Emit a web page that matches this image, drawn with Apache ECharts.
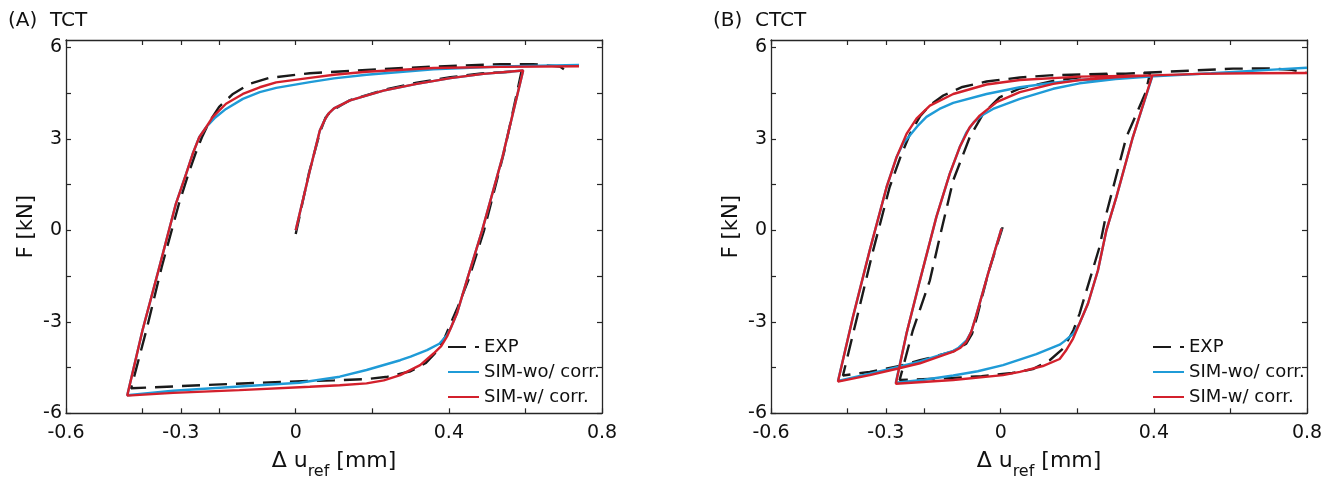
<!DOCTYPE html>
<html><head><meta charset="utf-8">
<script src="https://cdn.jsdelivr.net/npm/echarts@6/dist/echarts.min.js"></script>
<style>html,body{margin:0;padding:0;background:#fff}#c{width:1333px;height:481px}</style>
</head><body><div id="c"></div>
<script>
// ---- tick values ----
const xTicks = [-0.6, -0.4, -0.3, -0.2, 0, 0.2, 0.4, 0.6, 0.8];
const xLabels = [-0.6, -0.3, 0, 0.4, 0.8];
const yTicks = [-6, -4.5, -3, -1.5, 0, 1.5, 3, 4.5, 6];
const yLabels = [-6, -3, 0, 3, 6];
const seriesNames = ['EXP', 'SIM-wo/ corr.', 'SIM-w/ corr.'];
const panelTitles = ['(A)  TCT', '(B)  CTCT'];

// ---- (A) TCT : [Δu_ref mm, F kN] ----
const tctExp = [
  [0,-0.12],[0.035,1.9],[0.063,3.2],[0.078,3.7],[0.092,3.9],[0.142,4.27],[0.229,4.6],[0.316,4.84],[0.404,5.02],[0.49,5.15],[0.59,5.22],
  [0.545,2.6],[0.492,0],[0.452,-1.6],[0.424,-2.5],[0.405,-3.05],[0.39,-3.5],[0.37,-3.95],[0.34,-4.35],[0.3,-4.62],[0.24,-4.8],[0.185,-4.88],[0.1,-4.92],[0.037,-4.94],[-0.1,-5.0],[-0.25,-5.08],[-0.43,-5.18],
  [-0.39,-3.27],[-0.35,-1.2],[-0.305,0.87],[-0.28,1.86],[-0.262,2.51],[-0.245,3.05],[-0.226,3.55],[-0.2,4.05],[-0.164,4.47],[-0.121,4.8],[-0.068,5.0],[0.037,5.15],[0.185,5.26],[0.36,5.37],[0.535,5.45],[0.62,5.45],[0.69,5.37],[0.716,5.15]
];
const tctSimWo = [
  [0,0],[0.037,1.96],[0.063,3.27],[0.075,3.6],[0.085,3.82],[0.1,4.0],[0.142,4.26],[0.229,4.58],[0.316,4.8],[0.404,4.99],[0.49,5.13],[0.594,5.24],
  [0.54,2.4],[0.487,0],[0.447,-1.64],[0.421,-2.73],[0.405,-3.2],[0.395,-3.44],[0.375,-3.72],[0.343,-3.93],[0.3,-4.14],[0.273,-4.26],[0.185,-4.58],[0.115,-4.8],[0.01,-5.0],[-0.147,-5.12],[-0.32,-5.26],[-0.44,-5.41],
  [-0.40,-3.27],[-0.356,-1.2],[-0.313,0.87],[-0.286,1.86],[-0.269,2.51],[-0.252,3.05],[-0.234,3.38],[-0.21,3.7],[-0.182,3.98],[-0.138,4.31],[-0.094,4.53],[-0.051,4.67],[0.037,4.86],[0.1,4.98],[0.185,5.1],[0.36,5.28],[0.535,5.37],[0.74,5.42]
];
const tctSimW = [
  [0,0],[0.037,1.96],[0.063,3.27],[0.075,3.6],[0.085,3.82],[0.1,4.0],[0.142,4.26],[0.229,4.58],[0.316,4.8],[0.404,4.99],[0.49,5.13],[0.594,5.24],
  [0.54,2.4],[0.487,0],[0.447,-1.64],[0.421,-2.73],[0.405,-3.2],[0.395,-3.49],[0.38,-3.8],[0.36,-4.04],[0.325,-4.42],[0.273,-4.75],[0.23,-4.92],[0.185,-5.02],[0.115,-5.08],[0.037,-5.13],[-0.147,-5.24],[-0.32,-5.33],[-0.44,-5.42],
  [-0.40,-3.27],[-0.356,-1.2],[-0.313,0.87],[-0.286,1.86],[-0.269,2.51],[-0.252,3.05],[-0.234,3.38],[-0.217,3.71],[-0.182,4.15],[-0.138,4.47],[-0.094,4.69],[-0.051,4.85],[0.037,5.0],[0.1,5.1],[0.185,5.2],[0.36,5.32],[0.535,5.36],[0.74,5.38]
];

// ---- (B) CTCT ----
const ctctExp = [
  [0.005,0.1],[-0.033,-1.42],[-0.062,-2.84],[-0.075,-3.4],[-0.09,-3.72],[-0.124,-3.97],[-0.17,-4.13],[-0.211,-4.26],[-0.264,-4.45],[-0.342,-4.64],[-0.412,-4.76],
  [-0.375,-2.84],[-0.333,-0.65],[-0.29,1.42],[-0.262,2.4],[-0.237,3.16],[-0.21,3.75],[-0.185,4.1],[-0.15,4.42],[-0.1,4.7],[-0.037,4.88],[0.05,5.01],[0.128,5.08],[0.258,5.13],[0.39,5.15],
  [0.378,4.5],[0.328,3.05],[0.276,0.55],[0.258,-0.55],[0.232,-1.64],[0.206,-2.73],[0.19,-3.27],[0.165,-3.85],[0.128,-4.26],[0.084,-4.55],[0.03,-4.68],[-0.05,-4.78],[-0.124,-4.84],[-0.264,-4.91],
  [-0.23,-3.3],[-0.185,-1.64],[-0.155,0],[-0.124,1.64],[-0.081,3.05],[-0.046,3.82],[-0.003,4.36],[0.05,4.65],[0.137,4.9],[0.206,5.02],[0.3,5.12],[0.433,5.2],[0.607,5.3],[0.7,5.31],[0.76,5.26],[0.798,5.17]
];
const ctctSimWo = [
  [0.002,0.06],[-0.033,-1.42],[-0.065,-2.84],[-0.077,-3.33],[-0.09,-3.62],[-0.11,-3.85],[-0.124,-3.95],[-0.211,-4.3],[-0.268,-4.48],[-0.342,-4.7],[-0.425,-4.94],
  [-0.386,-2.84],[-0.342,-0.65],[-0.298,1.42],[-0.272,2.4],[-0.255,2.85],[-0.238,3.1],[-0.215,3.45],[-0.194,3.72],[-0.16,3.98],[-0.124,4.18],[-0.037,4.47],[0.05,4.69],[0.137,4.84],[0.206,4.93],[0.3,5.0],[0.396,5.05],
  [0.345,3.05],[0.302,1.09],[0.276,0],[0.254,-1.31],[0.228,-2.4],[0.206,-3.05],[0.189,-3.4],[0.165,-3.65],[0.154,-3.75],[0.093,-4.06],[0.006,-4.42],[-0.06,-4.62],[-0.124,-4.76],[-0.2,-4.9],[-0.274,-5.0],
  [-0.246,-3.38],[-0.211,-1.64],[-0.168,0.44],[-0.133,1.86],[-0.107,2.73],[-0.09,3.2],[-0.07,3.55],[-0.045,3.8],[-0.02,3.98],[0.05,4.31],[0.137,4.64],[0.206,4.82],[0.3,4.96],[0.4,5.05],[0.55,5.15],[0.7,5.26],[0.8,5.33]
];
const ctctSimW = [
  [0.002,0.06],[-0.033,-1.42],[-0.065,-2.84],[-0.077,-3.33],[-0.09,-3.66],[-0.105,-3.85],[-0.124,-3.98],[-0.211,-4.36],[-0.268,-4.53],[-0.342,-4.75],[-0.425,-4.96],
  [-0.386,-2.84],[-0.342,-0.65],[-0.298,1.42],[-0.272,2.4],[-0.246,3.16],[-0.22,3.66],[-0.185,4.09],[-0.124,4.47],[-0.037,4.78],[0.05,4.93],[0.206,5.04],[0.396,5.08],
  [0.345,3.05],[0.302,1.09],[0.276,0],[0.254,-1.31],[0.228,-2.4],[0.206,-3.05],[0.189,-3.55],[0.17,-3.95],[0.154,-4.22],[0.11,-4.45],[0.05,-4.64],[0.006,-4.75],[-0.124,-4.91],[-0.274,-5.03],
  [-0.246,-3.38],[-0.211,-1.64],[-0.168,0.44],[-0.133,1.86],[-0.107,2.73],[-0.081,3.38],[-0.055,3.76],[-0.011,4.2],[0.05,4.53],[0.137,4.8],[0.206,4.93],[0.3,5.02],[0.396,5.08],[0.52,5.13],[0.65,5.15],[0.8,5.16]
];

const FONT = 'DejaVu Sans';
const AX = '#262626';
const colors = ['#1a1a1a', '#1f9bd7', '#d3202c'];
const styles = [
  {color: colors[0], width: 2.4, type: [18, 9]},
  {color: colors[1], width: 2.4, type: 'solid'},
  {color: colors[2], width: 2.4, type: 'solid'}
];

const grids = [
  {left: 66, top: 40, width: 536, height: 373.3, outerBoundsMode: 'none', containLabel: false},
  {left: 771, top: 40, width: 536, height: 373.3, outerBoundsMode: 'none', containLabel: false}
];

function xAxisPair(g) {
  const common = {type: 'value', gridIndex: g, min: -0.6, max: 0.8, splitLine: {show: false}};
  return [
    Object.assign({}, common, {
      position: 'bottom',
      axisLine: {show: true, onZero: false, lineStyle: {color: AX, width: 1.3}},
      axisTick: {show: true, inside: true, length: 5, customValues: xTicks, lineStyle: {color: AX, width: 1.2}},
      axisLabel: {show: true, customValues: xLabels, fontSize: 19, fontFamily: FONT, color: '#111', margin: 10},
      name: '{a|Δ u}{b|ref}{a| [mm]}', nameLocation: 'middle', nameGap: 37,
      nameTextStyle: {fontFamily: FONT, color: '#111', rich: {
        a: {fontSize: 22, fontFamily: FONT, color: '#111', lineHeight: 24, verticalAlign: 'top'},
        b: {fontSize: 16, fontFamily: FONT, color: '#111', lineHeight: 18, padding: [14, 0, 0, 0], verticalAlign: 'top'}
      }}
    }),
    Object.assign({}, common, {
      position: 'top',
      axisLine: {show: true, onZero: false, lineStyle: {color: AX, width: 1.3}},
      axisTick: {show: true, inside: true, length: 5, customValues: xTicks, lineStyle: {color: AX, width: 1.2}},
      axisLabel: {show: false}
    })
  ];
}
function yAxisPair(g) {
  const common = {type: 'value', gridIndex: g, min: -6, max: 6.24, splitLine: {show: false}};
  return [
    Object.assign({}, common, {
      position: 'left',
      axisLine: {show: true, onZero: false, lineStyle: {color: AX, width: 1.3}},
      axisTick: {show: true, inside: true, length: 5, customValues: yTicks, lineStyle: {color: AX, width: 1.2}},
      axisLabel: {show: true, customValues: yLabels, fontSize: 19, fontFamily: FONT, color: '#111', margin: 4},
      name: 'F [kN]', nameLocation: 'middle', nameRotate: 90, nameGap: 29,
      nameTextStyle: {fontSize: 21, fontFamily: FONT, color: '#111'}
    }),
    Object.assign({}, common, {
      position: 'right',
      axisLine: {show: true, onZero: false, lineStyle: {color: AX, width: 1.3}},
      axisTick: {show: true, inside: true, length: 5, customValues: yTicks, lineStyle: {color: AX, width: 1.2}},
      axisLabel: {show: false}
    })
  ];
}

const panelData = [[tctExp, tctSimWo, tctSimW], [ctctExp, ctctSimWo, ctctSimW]];
const series = [];
panelData.forEach((arrs, p) => {
  arrs.forEach((d, i) => {
    series.push({
      type: 'line', name: seriesNames[i], data: d,
      xAxisIndex: p * 2, yAxisIndex: p * 2,
      showSymbol: false, symbol: 'none', smooth: false,
      lineStyle: styles[i], itemStyle: {color: colors[i]},
      z: 2 + i, animation: false
    });
  });
});

const legendBase = {
  data: seriesNames, orient: 'vertical', itemWidth: 31, itemHeight: 14, itemGap: 7,
  padding: 0, selectedMode: false,
  itemStyle: {color: 'rgba(0,0,0,0)', borderColor: 'rgba(0,0,0,0)', borderWidth: 0, opacity: 0},
  textStyle: {fontSize: 18, fontFamily: FONT, color: '#111', lineHeight: 18}
};

const option = {
  backgroundColor: '#fff',
  animation: false,
  title: panelTitles.map((t, i) => ({
    text: t, left: i === 0 ? 8 : 713, top: 11, padding: 0,
    textStyle: {fontSize: 20, fontWeight: 'normal', fontFamily: FONT, color: '#111'}
  })),
  legend: [
    Object.assign({}, legendBase, {left: 447, top: 338}),
    Object.assign({}, legendBase, {left: 1152, top: 338})
  ],
  grid: grids,
  xAxis: [].concat(xAxisPair(0), xAxisPair(1)),
  yAxis: [].concat(yAxisPair(0), yAxisPair(1)),
  series: series
};

const chart = echarts.init(document.getElementById('c'), null, {renderer: 'canvas'});
chart.setOption(option);
</script>
</body></html>
